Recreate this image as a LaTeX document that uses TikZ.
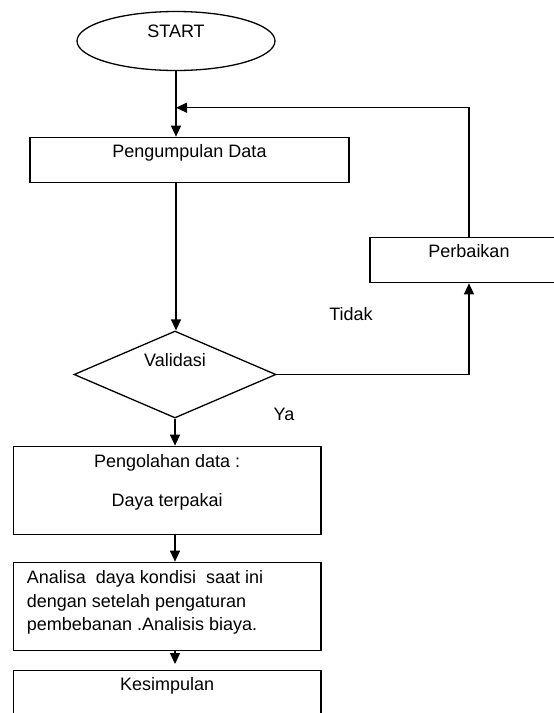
\documentclass[tikz,border=0pt]{standalone}
\usepackage{fontspec}
\setmainfont{Liberation Sans}
\usetikzlibrary{shapes.geometric}
\usetikzlibrary{arrows.meta}

\tikzset{
    garis/.style={line width=1.3pt},
    panah/.style={garis,-{Triangle[length=11pt,width=10pt]}},
    kotak/.style={garis,draw,rectangle,inner xsep=0pt,inner ysep=7pt,text height=13pt},
    isi/.style={inner sep=0pt,text height=13pt,text depth=0pt},
    tulisan/.style={inner sep=0pt}
}

\begin{document}
\begin{tikzpicture}[x=1pt,y=-1pt,font=\fontsize{18}{23.3}\selectfont]
        %    \draw [help lines] (0,0) grid (554,713);
        \useasboundingbox (0,0) rectangle (554,713);
        \clip (0,0) rectangle (554,713);

        \path node (mulai) [garis,draw,ellipse,inner sep=0pt,minimum width=198pt,minimum height=59pt,text height=13pt,text depth=20.4pt] at (176,41) {START};

        \path node (kumpul) [kotak,minimum width=319pt,text depth=18pt] at (189.5,159.8) {Pengumpulan Data};

        \path node (perbaikan) [kotak,minimum width=198pt,text depth=18pt] at (469,260.2) {Perbaikan};

        \path node (validasi) [garis,draw,diamond,aspect=2.32,inner sep=0pt,minimum width=202pt,minimum height=87pt,text height=13pt,text depth=28.6pt] at (175,374.5) {Validasi};

        \path node (olah) [kotak,minimum width=307.6pt,minimum height=88pt,
            label={[tulisan,anchor=north,yshift=-9pt,align=center]north:{Pengolahan data :\\[15pt]Daya terpakai}}] at (167.2,490.3) {};

        \path node (analisa) [kotak,minimum width=307.6pt,minimum height=88.4pt,
            label={[tulisan,anchor=north west,xshift=14pt,yshift=-9pt,align=left]north west:{Analisa\ \ daya kondisi\ \ saat ini\\dengan setelah pengaturan\\pembebanan .Analisis biaya.}}] at (167.2,606.5) {};

        \path node (simpul) [kotak,minimum width=307.6pt,text depth=33pt] at (167.2,700.7) {Kesimpulan};

        \path node (tidak) [isi] at (351,313.7) {Tidak};
        \path node (ya) [isi] at (284,414.3) {Ya};

        \coordinate (gabung) at (176,107.7);

        \draw[panah] (mulai) -- (kumpul.north -| mulai);
        \draw[panah] (kumpul.south -| mulai) -- (validasi.north -| mulai);
        \draw[panah] (validasi.east) -| (perbaikan.south);
        \draw[panah] (perbaikan.north) |- (gabung);

        \draw[panah] (validasi) -- (olah.north -| validasi);
        \draw[panah] (olah.south -| validasi) -- (analisa.north -| validasi);
        \draw[panah,shorten >=6pt] (analisa.south -| validasi) -- (simpul.north -| validasi);

    \end{tikzpicture}
\end{document}
